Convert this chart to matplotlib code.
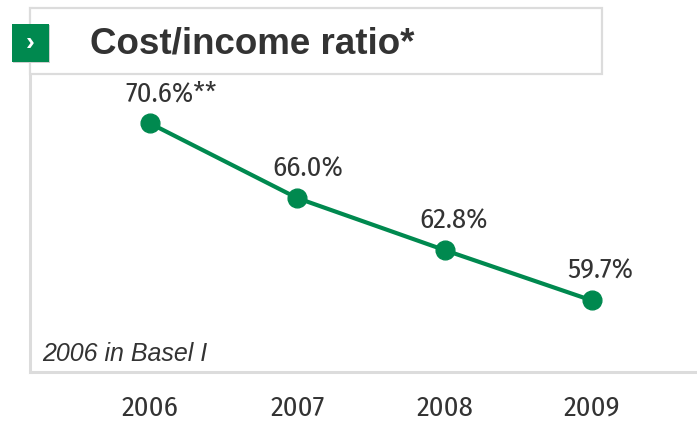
import matplotlib.pyplot as plt
from matplotlib.patches import Rectangle

# cost/income ratio per year, in percent
years = ["2006", "2007", "2008", "2009"]
ratios = [70.6, 66.0, 62.8, 59.7]
labels = ["70.6%**", "66.0%", "62.8%", "59.7%"]

GREEN = "#00894F"
TEXT = "#333333"
FRAME = "#DCDCDC"
COND = ["Fira Sans Condensed", "DejaVu Sans"]

W, H = 697, 422
fig = plt.figure(figsize=(W / 100, H / 100), dpi=100)
PT = 72 / 100  # points per pixel


def fx(px):
    return px / W


def fy(py):
    return 1 - py / H


# plot area: left edge x=30, top y=8, bottom y=372 (pixels)
ax = fig.add_axes([fx(30), fy(372), fx(W - 30), (372 - 8) / H])
x = list(range(len(years)))
ax.plot(x, ratios, color=GREEN, lw=3, marker="o", ms=13.5, zorder=3)
ax.set_xlim(-0.815, 3.713)
ax.set_ylim(55.3, 77.7)

for xi, v, lab in zip(x, ratios, labels):
    ax.annotate(lab, (xi, v), xytext=(-25 * PT, 22 * PT), textcoords="offset points",
                ha="left", va="baseline", fontsize=20.5, color=TEXT, family=COND)

ax.set_yticks([])
ax.set_xticks(x)
ax.set_xticklabels(years, family=COND, fontsize=20.5, color=TEXT)
ax.tick_params(axis="x", length=0, pad=16.5)
for side in ("top", "right"):
    ax.spines[side].set_visible(False)
for side in ("left", "bottom"):
    ax.spines[side].set_color(FRAME)
    ax.spines[side].set_linewidth(2.2)

fig.text(fx(42), fy(361), "2006 in Basel I", fontsize=18, style="italic",
         color=TEXT, family="Liberation Sans", ha="left", va="baseline")

# title box with green marker
fig.patches.append(Rectangle((fx(30), fy(74)), fx(602 - 30), (74 - 8) / H,
                             transform=fig.transFigure, facecolor="white",
                             edgecolor=FRAME, lw=1.6, zorder=3))
fig.patches.append(Rectangle((fx(13), fy(63)), fx(37), 38 / H,
                             transform=fig.transFigure, facecolor="#CFCFCF",
                             edgecolor="none", zorder=4))
fig.patches.append(Rectangle((fx(12), fy(62)), fx(37), 38 / H,
                             transform=fig.transFigure, facecolor=GREEN,
                             edgecolor="none", zorder=4))
fig.text(fx(30.5), fy(43), "\u203a", color="white", fontsize=19, weight="bold",
         family="Liberation Sans", ha="center", va="center", zorder=5)
fig.text(fx(90), fy(54), "Cost/income ratio*", color=TEXT, fontsize=26.5,
         weight="bold", family="Liberation Sans", ha="left", va="baseline", zorder=5)

fig.savefig("out.png", dpi=100)
